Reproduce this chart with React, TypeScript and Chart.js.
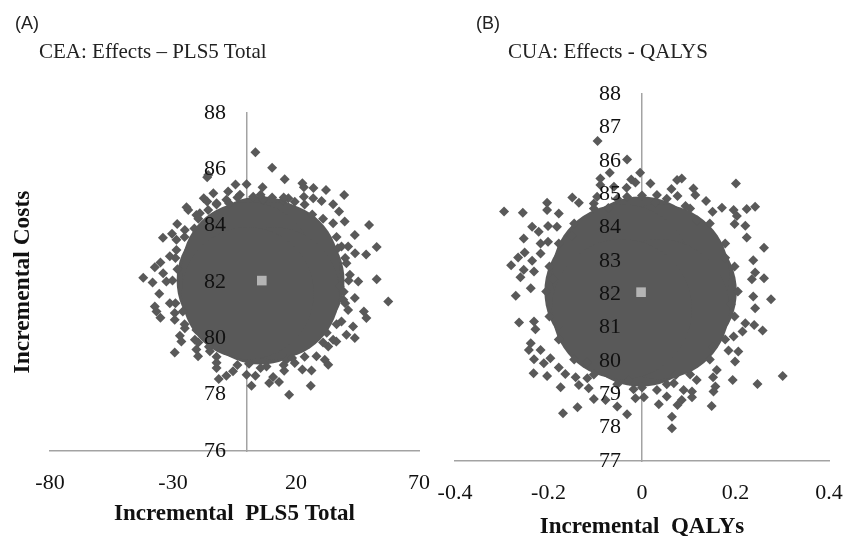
import React, { useEffect, useRef } from "react";
import { Chart, registerables } from "chart.js";

Chart.register(...registerables);

const ticksXA = { min: -80, max: 70, step: 50 };
const ticksYA = { min: 76, max: 88, step: 2 };
const ticksXB = { min: -0.4, max: 0.4, step: 0.2 };
const ticksYB = { min: 77, max: 88, step: 1 };

const meanA: number[][] = [[6.1, 82.05]];
const meanB: number[][] = [[-0.002, 82.06]];

const coreA: number[][] = [
  [5.6, 82.05], [12.9, 82.05], [-1.7, 82.05], [5.6, 82.69], [5.6, 81.41],
  [10.8, 82.5], [0.4, 82.5], [10.8, 81.6], [0.4, 81.6],
];
const coreB: number[][] = [
  [-0.003, 82.08], [0.053, 82.08], [-0.059, 82.08], [-0.003, 82.83], [-0.003, 81.33],
  [0.037, 82.6], [-0.043, 82.6], [0.037, 81.55], [-0.043, 81.55],
];

const edgeA: number[][] = [
  [41.4, 82.05], [40, 82.85], [36.5, 83.6], [31, 84.25], [23.5, 84.75], [15, 85], [5.6, 85.1], [-3.8, 85],
  [-12.3, 84.75], [-19.7, 84.25], [-25.3, 83.6], [-29, 82.85], [-30.2, 82.05], [-29, 81.25], [-25.3, 80.5],
  [-19.7, 79.85], [-12.3, 79.35], [-3.8, 79.05], [5.6, 78.95], [15, 79.05], [23.5, 79.35], [31, 79.85],
  [36.5, 80.5], [40, 81.25], [37, 83.2], [26.6, 84.4], [10.3, 85], [-7.2, 84.8], [-21.3, 83.9], [-28.2, 82.45],
  [-26, 80.95], [-15.4, 79.7], [0.9, 79.1], [18.4, 79.3], [32.5, 80.2], [39.4, 81.65],
];

const edgeB: number[][] = [
  [0.205, 82.08], [0.198, 82.83], [0.178, 83.52], [0.145, 84.12], [0.103, 84.57], [0.053, 84.86], [0, 84.96],
  [-0.053, 84.86], [-0.103, 84.57], [-0.145, 84.12], [-0.178, 83.52], [-0.198, 82.83], [-0.205, 82.08],
  [-0.198, 81.33], [-0.178, 80.64], [-0.145, 80.04], [-0.103, 79.59], [-0.053, 79.3], [0, 79.2], [0.053, 79.3],
  [0.103, 79.59], [0.145, 80.04], [0.178, 80.64], [0.198, 81.33], [0.178, 83.09], [0.118, 84.21], [0.027, 84.75],
  [-0.072, 84.58], [-0.151, 83.74], [-0.19, 82.46], [-0.178, 81.07], [-0.118, 79.95], [-0.027, 79.41],
  [0.072, 79.58], [0.151, 80.42], [0.19, 81.7],
];

const cloudA: number[][] = [
  [3.5, 86.61], [10.3, 86.06], [15.4, 85.65], [22.6, 85.51], [23.2, 85.36], [27.1, 85.34], [32.2, 85.27],
  [39.6, 85.09], [49.7, 84.02], [52.8, 83.24], [48.5, 82.98], [52.8, 82.1], [57.5, 81.31], [43.9, 83.67],
  [44, 83.02], [39.8, 84.15], [37.5, 84.5], [35.1, 84.76], [30.4, 84.88], [27, 84.97], [23.2, 85.03],
  [16.9, 84.97], [6.4, 85.36], [6.6, 84.94], [-0.1, 85.47], [-4.6, 85.46], [-7.6, 85.21], [-13.6, 85.15],
  [-16.1, 85.72], [-15.7, 85.8], [-17.5, 84.97], [-16.1, 84.86], [-24.5, 84.65], [-23.8, 84.56], [-19.1, 84.44],
  [-15.7, 84.56], [-28.3, 84.06], [-30.4, 83.71], [-34.1, 83.57], [-28.6, 83.14], [-35.1, 82.69], [-37.4, 82.52],
  [-42.1, 82.15], [-38.3, 81.98], [-35.6, 81.58], [-32.7, 82.02], [45.3, 82.02], [43.9, 81.43], [41.9, 82.26],
  [41.2, 83.26], [-34, 82.31], [-31.3, 81.25], [-37.4, 81.13], [-36.7, 80.95], [-35.1, 80.73], [-29.3, 80.9],
  [-29.3, 80.66], [-25.2, 80.36], [-27.2, 80.09], [-26.6, 79.89], [-29.3, 79.5], [-20.5, 79.6], [-19.8, 79.36],
  [-21.1, 79.95], [-15, 79.54], [-12.3, 78.95], [-8.3, 78.67], [-11.4, 78.56], [1.9, 78.32], [3.5, 78.67],
  [9.1, 78.41], [10.7, 78.63], [13.1, 78.45], [15.2, 78.85], [17.2, 78], [26, 78.32], [26.3, 78.86],
  [22.6, 78.89], [19.5, 79.12], [31.7, 79.24], [33.1, 79.06], [33.1, 79.71], [36.4, 79.89], [40.5, 80.13],
  [43.2, 80.42], [43.9, 80.01], [38.5, 80.6], [48.6, 80.72], [47.6, 80.95], [41.2, 81.01], [37.8, 81.85],
  [40.5, 82.67], [39.2, 81.37], [-31.3, 82.91], [-28.6, 83.5], [-25.2, 83.85], [-20.5, 84.38], [-12.3, 84.8],
  [-8.3, 84.92], [-2.8, 85.1], [2.6, 85.03], [14.8, 84.9], [19.5, 84.85], [35.1, 84.09], [38.5, 83.26],
  [-12.3, 79.13], [-5.6, 78.83], [-0.1, 78.71], [8, 79], [16.1, 79.24], [28.3, 79.36], [35.1, 79.95], [-20.5, 80.3],
];

const cloudB: number[][] = [
  [-0.095, 86.59], [-0.032, 86.04], [-0.004, 85.64], [-0.069, 85.64], [-0.089, 85.47], [-0.089, 85.27], [-0.06, 85.22],
  [-0.023, 85.44], [-0.014, 85.35], [-0.033, 85.19], [0.018, 85.32], [0.075, 85.42], [0.085, 85.47], [0.063, 85.15],
  [0.11, 85.17], [0.114, 84.97], [0.076, 84.94], [0.137, 84.79], [0.201, 85.32], [0.242, 84.62], [0.224, 84.55],
  [0.171, 84.59], [0.151, 84.47], [0.196, 84.52], [0.203, 84.34], [0.221, 84.05], [0.198, 84.1], [0.224, 83.7],
  [0.261, 83.39], [0.238, 83.02], [0.242, 82.65], [0.261, 82.48], [0.235, 82.45], [0.276, 81.85], [0.238, 81.93],
  [-0.149, 84.9], [-0.135, 84.74], [-0.203, 84.74], [-0.203, 84.52], [-0.295, 84.48], [-0.255, 84.44], [-0.178, 84.42],
  [-0.235, 84.02], [-0.221, 83.87], [-0.201, 84.04], [-0.182, 84.02], [-0.253, 83.67], [-0.201, 83.57], [-0.217, 83.52],
  [-0.251, 83.25], [-0.265, 83.1], [-0.235, 83], [-0.28, 82.87], [-0.253, 82.73], [-0.26, 82.51], [-0.238, 82.18],
  [-0.27, 81.95], [-0.231, 82.68], [-0.217, 83.22], [-0.096, 84.92], [0.032, 84.97], [0.093, 84.64], [-0.103, 84.72],
  [-0.032, 84.92], [-0.263, 81.15], [-0.231, 81.18], [-0.228, 80.95], [-0.238, 80.53], [-0.242, 80.33], [-0.217, 80.33],
  [-0.231, 80.05], [-0.21, 79.93], [-0.196, 80.08], [-0.232, 79.63], [-0.203, 79.55], [-0.174, 79.21], [-0.178, 79.8],
  [-0.164, 79.61], [-0.142, 79.51], [-0.135, 79.28], [-0.114, 79.18], [-0.103, 78.86], [-0.078, 78.83], [-0.138, 78.61],
  [-0.169, 78.43], [-0.053, 78.63], [-0.032, 78.4], [-0.014, 78.88], [0.004, 78.91], [-0.018, 79.15], [0.036, 78.7],
  [0.053, 78.93], [0.064, 78.33], [0.064, 77.98], [0.076, 78.68], [0.089, 79.13], [0.085, 78.83], [0.107, 79.08],
  [0.107, 78.91], [0.117, 79.43], [0.149, 78.65], [0.153, 79.08], [0.157, 79.23], [0.152, 79.51], [0.16, 79.73],
  [0.194, 79.43], [0.247, 79.31], [0.301, 79.55], [0.199, 79.98], [0.206, 80.28], [0.185, 80.31], [0.196, 80.73],
  [0.215, 80.88], [0.221, 81.13], [0.24, 81.08], [0.258, 80.91], [0.242, 81.58], [0.068, 79.33], [0.032, 79.13],
  [-0.117, 79.48],
];

const titleA = "CEA: Effects \u2013 PLS5 Total";
const titleB = "CUA: Effects - QALYS";
const xTitleA = "Incremental  PLS5 Total";
const xTitleB = "Incremental  QALYs";
const yTitleA = "Incremental Costs";

const SERIF = "'Liberation Serif'";
const toPts = (rows: number[][]) => rows.map(([x, y]) => ({ x, y }));

type PanelProps = {
  left: number; width: number; height: number;
  mean: number[][]; core: number[][]; cloud: number[][]; edge: number[][];
  rx: { min: number; max: number; step: number }; ry: { min: number; max: number; step: number };
  xTitle: string; yTitle?: string; coreRadius: number; xHeight: number; labelAt: number;
  padding: { left: number; right: number; top: number; bottom: number };
};

function Panel(p: PanelProps) {
  const ref = useRef<HTMLCanvasElement | null>(null);
  useEffect(() => {
    const line = "#a3a3a3";
    const scales: any = {
      x: {
        type: "linear", min: p.rx.min, max: p.rx.max,
        afterFit: (s: any) => { s.height = p.xHeight; s.paddingLeft = 0; s.paddingRight = 0; },
        grid: { display: false }, border: { color: line, width: 1.5 },
        ticks: { stepSize: p.rx.step, color: "#111", maxRotation: 0, autoSkip: false, padding: 11, font: { family: SERIF, size: 22 } },
        title: { display: true, text: p.xTitle, color: "#111", padding: { top: 5, bottom: 0 }, font: { family: SERIF, size: 23, weight: "bold" } },
      },
      y: {
        type: "linear", min: p.ry.min, max: p.ry.max, position: { x: 0 },
        afterFit: (s: any) => { s.width = 0; },
        grid: { display: false }, border: { color: line, width: 1.5 },
        ticks: { display: false, stepSize: p.ry.step },
      },
      yTicks: {
        type: "linear", min: p.ry.min, max: p.ry.max, position: { x: p.labelAt },
        afterFit: (s: any) => { s.width = 0; },
        grid: { display: false }, border: { display: false },
        ticks: { stepSize: p.ry.step, color: "#111", autoSkip: false, padding: 0, z: 1, font: { family: SERIF, size: 22 } },
      },
    };
    if (p.yTitle) {
      scales.yLabel = {
        type: "linear", position: "left", display: true,
        afterFit: (s: any) => { s.width = 41; },
        grid: { display: false }, border: { display: false }, ticks: { display: false },
        title: { display: true, text: p.yTitle, color: "#111", padding: 0, font: { family: SERIF, size: 23.5, weight: "bold" } },
      };
    }
    const chart = new Chart(ref.current as HTMLCanvasElement, {
      type: "scatter",
      data: {
        datasets: [
          { label: "Mean", data: toPts(p.mean), pointStyle: "rect", pointRadius: 6.8, backgroundColor: "#b4b4b4", borderWidth: 0 },
          { label: "Simulations", data: toPts([...p.cloud, ...p.edge]), pointStyle: "rectRot", pointRadius: 5, backgroundColor: "#595959", borderWidth: 0 },
          { label: "Simulations (dense)", data: toPts(p.core), pointStyle: "circle", pointRadius: p.coreRadius, backgroundColor: "#595959", borderWidth: 0 },
        ],
      },
      options: {
        animation: false, responsive: false,
        layout: { autoPadding: false, padding: p.padding },
        plugins: { legend: { display: false }, tooltip: { enabled: false }, title: { display: false } },
        scales,
      },
    } as any);
    return () => chart.destroy();
  }, []);
  return <canvas ref={ref} width={p.width} height={p.height} style={{ position: "absolute", left: p.left, top: 0, width: p.width, height: p.height }} />;
}

const labelStyle = (left: number, top: number, font: string, size: number): React.CSSProperties => ({
  position: "absolute", left, top, fontFamily: font, fontSize: size, lineHeight: "20px", color: "#222", whiteSpace: "nowrap", zIndex: 2,
});

export default function App() {
  return (
    <div style={{ position: "absolute", left: 0, top: 0, width: 845, height: 536, background: "#fff", overflow: "hidden" }}>
      <Panel left={0} width={434} height={536} mean={meanA} core={coreA} cloud={cloudA} edge={edgeA} rx={ticksXA} ry={ticksYA} xTitle={xTitleA} yTitle={yTitleA} coreRadius={66} xHeight={77} labelAt={-8.5}
        padding={{ left: 9, right: 15, top: 113, bottom: 8 }} />
      <Panel left={434} width={411} height={545} mean={meanB} core={coreB} cloud={cloudB} edge={edgeB} rx={ticksXB} ry={ticksYB} xTitle={xTitleB} coreRadius={70} xHeight={80} labelAt={-0.045}
        padding={{ left: 21, right: 16, top: 94, bottom: 4 }} />
      <div style={labelStyle(15, 13, "'Liberation Sans'", 18)}>(A)</div>
      <div style={labelStyle(476, 13, "'Liberation Sans'", 18)}>(B)</div>
      <div style={labelStyle(39, 41, SERIF, 21)}>{titleA}</div>
      <div style={labelStyle(508, 41, SERIF, 21)}>{titleB}</div>
    </div>
  );
}
